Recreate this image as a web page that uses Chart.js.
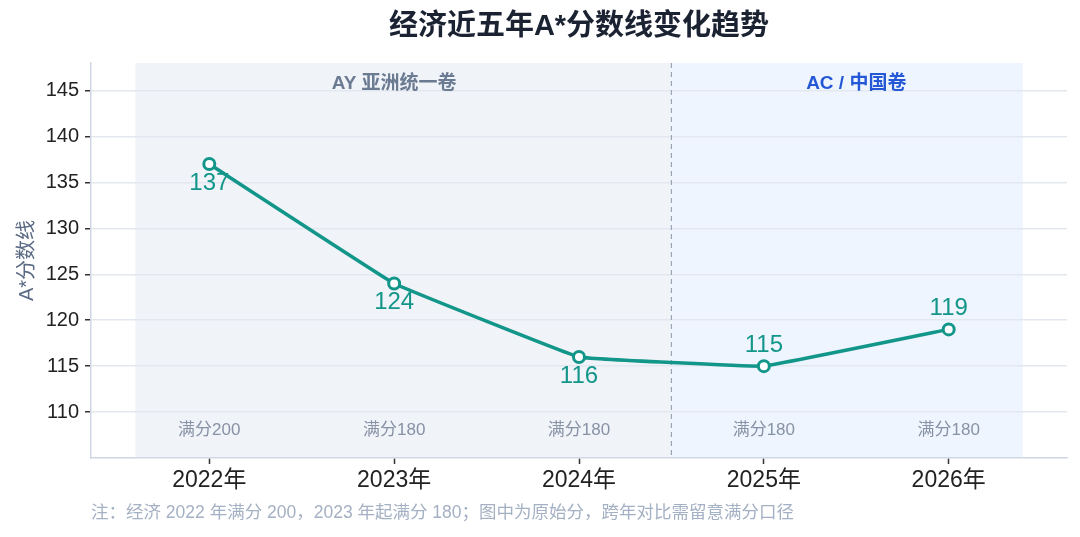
<!DOCTYPE html>
<html>
<head>
<meta charset="utf-8">
<script src="https://cdn.jsdelivr.net/npm/chart.js@4.4.1/dist/chart.umd.min.js"></script>
<style>
html,body{margin:0;padding:0;background:#ffffff;}
#wrap{width:1080px;height:537px;position:relative;}
</style>
</head>
<body>
<div id="wrap"><canvas id="c" width="1080" height="537"></canvas></div>
<script>
// ---- data ----
const years = ['2022年', '2023年', '2024年', '2025年', '2026年'];
const scores = [137, 124, 116, 115, 119];
const fullMarks = ['满分200', '满分180', '满分180', '满分180', '满分180'];
const yTicks = [110, 115, 120, 125, 130, 135, 140, 145];
const bandNames = ['AY 亚洲统一卷', 'AC / 中国卷'];
const titleText = '经济近五年A*分数线变化趋势';
const yTitle = 'A*分数线';
const noteText = '注：经济 2022 年满分 200，2023 年起满分 180；图中为原始分，跨年对比需留意满分口径';

// ---- presentation config ----
const FONT = '"Liberation Sans", "Noto Sans CJK SC", sans-serif';
const TEAL = '#13968a';
const labelBelow = [true, true, true, false, false];
const bands = [
  {from: -0.4, to: 2.5, color: '#f0f3f8', labelAt: 1, text: bandNames[0], textColor: '#6b7b92'},
  {from: 2.5, to: 4.4, color: '#eef5fe', labelAt: 3.5, text: bandNames[1], textColor: '#2458d6'}
];

const points = scores.map((v, i) => ({x: i, y: v}));

const decor = {
  id: 'decor',
  beforeDraw(chart) {
    const {ctx, chartArea: a, scales: {x}} = chart;
    ctx.save();
    bands.forEach(b => {
      const x1 = x.getPixelForValue(b.from), x2 = x.getPixelForValue(b.to);
      ctx.fillStyle = b.color;
      ctx.fillRect(x1, a.top, x2 - x1, a.bottom - a.top);
    });
    ctx.restore();
  },
  beforeDatasetsDraw(chart) {
    const {ctx, chartArea: a, scales: {x}} = chart;
    ctx.save();
    // divider
    const xd = x.getPixelForValue(2.5);
    ctx.strokeStyle = '#9aa6b6';
    ctx.lineWidth = 1.2;
    ctx.setLineDash([5, 4]);
    ctx.beginPath();
    ctx.moveTo(xd, a.top);
    ctx.lineTo(xd, a.bottom);
    ctx.stroke();
    ctx.setLineDash([]);
    // band labels
    ctx.textAlign = 'center';
    ctx.textBaseline = 'middle';
    ctx.font = 'bold 19px ' + FONT;
    bands.forEach(b => {
      ctx.fillStyle = b.textColor;
      ctx.fillText(b.text, x.getPixelForValue(b.labelAt), a.top + 21);
    });
    // full marks
    ctx.font = '17px ' + FONT;
    ctx.fillStyle = '#8792a5';
    fullMarks.forEach((t, i) => {
      ctx.fillText(t, x.getPixelForValue(i), a.bottom - 28);
    });
    ctx.restore();
  },
  afterDatasetsDraw(chart) {
    const {ctx} = chart;
    const meta = chart.getDatasetMeta(0);
    ctx.save();
    ctx.textAlign = 'center';
    ctx.textBaseline = 'middle';
    ctx.font = '24px ' + FONT;
    ctx.fillStyle = TEAL;
    meta.data.forEach((pt, i) => {
      const dy = labelBelow[i] ? 19 : -21;
      ctx.fillText(String(scores[i]), pt.x, pt.y + dy);
    });
    ctx.restore();
  },
  afterDraw(chart) {
    const {ctx, chartArea: a} = chart;
    ctx.save();
    // title centred over the plot area
    ctx.textAlign = 'center';
    ctx.textBaseline = 'middle';
    ctx.font = 'bold 29px ' + FONT;
    ctx.fillStyle = '#1b2333';
    ctx.fillText(titleText, (a.left + a.right) / 2, 27);
    // note
    ctx.textAlign = 'left';
    ctx.font = '17.5px ' + FONT;
    ctx.fillStyle = '#a4b0c3';
    ctx.fillText(noteText, a.left, 513);
    ctx.restore();
  }
};

new Chart(document.getElementById('c'), {
  type: 'line',
  data: {
    datasets: [{
      data: points,
      borderColor: TEAL,
      borderWidth: 3.5,
      pointRadius: 5.5,
      pointBorderWidth: 3,
      pointBackgroundColor: '#ffffff',
      pointBorderColor: TEAL,
      tension: 0.05,
      fill: false
    }]
  },
  options: {
    responsive: false,
    animation: false,
    devicePixelRatio: 1,
    layout: {padding: {left: 0, right: 13, top: 63, bottom: 34}},
    plugins: {
      legend: {display: false},
      tooltip: {enabled: false},
      title: {display: false}
    },
    scales: {
      x: {
        type: 'linear',
        min: -0.64,
        max: 4.64,
        afterBuildTicks(s) { s.ticks = years.map((_, i) => ({value: i})); },
        afterFit(s) { s.height = 45; },
        ticks: {
          color: '#222222',
          font: {family: FONT, size: 23},
          padding: 3,
          callback: v => years[v]
        },
        grid: {display: true, drawOnChartArea: false, tickLength: 6, tickColor: '#333333', tickWidth: 1.5},
        border: {display: true, color: '#cfd8e4', width: 1.5}
      },
      y: {
        min: 105,
        max: 148,
        afterBuildTicks(s) { s.ticks = yTicks.map(v => ({value: v})); },
        afterFit(s) { s.width = 91; },
        ticks: {
          color: '#222222',
          font: {family: FONT, size: 20},
          padding: 6
        },
        title: {
          display: true,
          text: yTitle,
          color: '#5a6a84',
          font: {family: FONT, size: 20},
          padding: {top: 15, bottom: 4}
        },
        grid: {color: '#e3e8f0', lineWidth: 1.5, tickLength: 6, tickColor: '#333333', tickWidth: 1.5},
        border: {display: true, color: '#cfd8e4', width: 1.5}
      }
    }
  },
  plugins: [decor]
});
</script>
</body>
</html>
